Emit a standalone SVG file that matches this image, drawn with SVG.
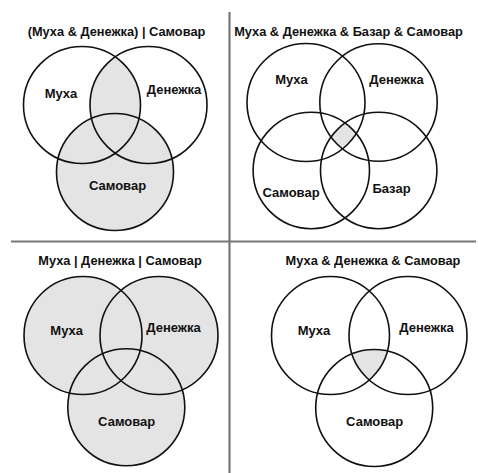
<svg xmlns="http://www.w3.org/2000/svg" width="478" height="473" viewBox="0 0 478 473">
<style>
.c{fill:none;stroke:#111;stroke-width:1.6}
.f{fill:#e4e4e4;stroke:none}
.t{font-family:"Liberation Sans",Arial,sans-serif;font-weight:bold;font-size:12.8px;fill:#111;text-anchor:middle}
.l{font-family:"Liberation Sans",Arial,sans-serif;font-weight:bold;font-size:13px;fill:#111;text-anchor:middle}
.d{stroke:#777;stroke-width:2.2;fill:none}
</style>
<defs>
<clipPath id="p1m"><circle cx="82" cy="105" r="58.5"/></clipPath>
<clipPath id="p2m"><circle cx="306" cy="102.5" r="59"/></clipPath>
<clipPath id="p2d"><circle cx="378.5" cy="102.5" r="58.7"/></clipPath>
<clipPath id="p2s"><circle cx="311.3" cy="170.5" r="58.2"/></clipPath>
<clipPath id="p4m"><circle cx="330.5" cy="335.5" r="59"/></clipPath>
<clipPath id="p4d"><circle cx="408" cy="335.5" r="59"/></clipPath>
</defs>
<g id="dividers">
<line class="d" x1="229.5" y1="12" x2="229.5" y2="473"/>
<line class="d" x1="11" y1="241.5" x2="476" y2="241.5"/>
</g>
<g id="panel1">
<text class="t" x="116.5" y="36">(Муха &amp; Денежка) | Самовар</text>
<circle class="f" cx="115" cy="172" r="58.5"/>
<g clip-path="url(#p1m)"><circle class="f" cx="148.5" cy="105" r="58.5"/></g>
<circle class="c" cx="82" cy="105" r="58.5"/>
<circle class="c" cx="148.5" cy="105" r="58.5"/>
<circle class="c" cx="115" cy="172" r="58.5"/>
<text class="l" x="61" y="97.5">Муха</text>
<text class="l" x="174" y="93.5">Денежка</text>
<text class="l" x="117.5" y="189.5">Самовар</text>
</g>
<g id="panel2">
<text class="t" x="348.5" y="36">Муха &amp; Денежка &amp; Базар &amp; Самовар</text>
<g clip-path="url(#p2m)"><g clip-path="url(#p2d)"><g clip-path="url(#p2s)"><circle class="f" cx="378.7" cy="170.5" r="58.2"/></g></g></g>
<circle class="c" cx="306" cy="102.5" r="59"/>
<circle class="c" cx="378.5" cy="102.5" r="58.7"/>
<circle class="c" cx="311.3" cy="170.5" r="58.2"/>
<circle class="c" cx="378.7" cy="170.5" r="58.2"/>
<text class="l" x="291.5" y="83.5">Муха</text>
<text class="l" x="396.5" y="83.5">Денежка</text>
<text class="l" x="291" y="196.5">Самовар</text>
<text class="l" x="391.5" y="192.5">Базар</text>
</g>
<g id="panel3">
<text class="t" x="120" y="264.5">Муха | Денежка | Самовар</text>
<circle class="f" cx="83" cy="335.5" r="59"/>
<circle class="f" cx="159" cy="335.5" r="59"/>
<circle class="f" cx="126.3" cy="407.3" r="58.5"/>
<circle class="c" cx="83" cy="335.5" r="59"/>
<circle class="c" cx="159" cy="335.5" r="59"/>
<circle class="c" cx="126.3" cy="407.3" r="58.5"/>
<text class="l" x="66.7" y="334.5">Муха</text>
<text class="l" x="173.5" y="332">Денежка</text>
<text class="l" x="126.7" y="425.5">Самовар</text>
</g>
<g id="panel4">
<text class="t" x="373" y="264.5">Муха &amp; Денежка &amp; Самовар</text>
<g clip-path="url(#p4m)"><g clip-path="url(#p4d)"><circle class="f" cx="374.2" cy="408" r="58.5"/></g></g>
<circle class="c" cx="330.5" cy="335.5" r="59"/>
<circle class="c" cx="408" cy="335.5" r="59"/>
<circle class="c" cx="374.2" cy="408" r="58.5"/>
<text class="l" x="314" y="334.5">Муха</text>
<text class="l" x="426.5" y="332">Денежка</text>
<text class="l" x="374.7" y="425.5">Самовар</text>
</g>
</svg>
